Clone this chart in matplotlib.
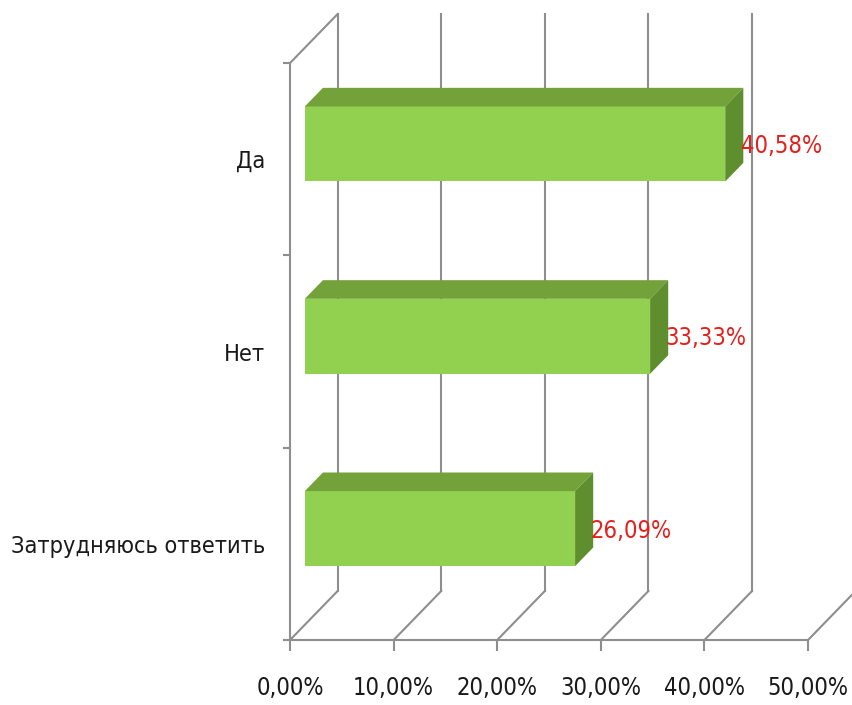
import matplotlib
matplotlib.use("Agg")
import matplotlib.pyplot as plt
from matplotlib.patches import Polygon

# data
categories = ["Затрудняюсь ответить", "Нет", "Да"]
values = [26.09, 33.33, 40.58]
value_labels = ["26,09%", "33,33%", "40,58%"]
x_ticks = [0, 10, 20, 30, 40, 50]
x_tick_labels = ["0,00%", "10,00%", "20,00%", "30,00%", "40,00%", "50,00%"]

plt.rcParams['font.family'] = ['DejaVu Sans']
plt.rcParams['font.stretch'] = 'condensed'

fig = plt.figure(figsize=(8.52, 7.05), dpi=100)
ax = fig.add_axes([0.3404, 0.0922, 0.608, 0.8184])
ax.set_xlim(0, 50)
ax.set_ylim(0, 3)

grid = '#8E8E8E'
front_c, top_c, side_c = '#92D050', '#74A23A', '#5E8E2D'
DX, DY = 4.6, 0.255   # depth of the 3d box, in data units
f1, f2 = 0.31, 0.69   # where the bars sit inside that depth
h = 0.39              # bar height

# back wall gridlines and floor diagonals
for x in x_ticks:
    ax.plot([x + DX, x + DX], [DY, 3 + DY], color=grid, lw=1.5,
            clip_on=False, zorder=1)
    ax.plot([x, x + DX], [0, DY], color=grid, lw=1.5, clip_on=False, zorder=1)
ax.plot([0, DX], [3, 3 + DY], color=grid, lw=1.5, clip_on=False, zorder=1)

# 3d bars
for i, (v, lab) in enumerate(zip(values, value_labels)):
    c = i + 0.5
    lo, hi = c - h / 2, c + h / 2
    x0, y0 = f1 * DX, f1 * DY
    x1, y1 = f2 * DX, f2 * DY
    front = Polygon([(x0, lo + y0), (v + x0, lo + y0), (v + x0, hi + y0),
                     (x0, hi + y0)], closed=True, fc=front_c, ec='none',
                    zorder=3, clip_on=False)
    top = Polygon([(x0, hi + y0), (v + x0, hi + y0), (v + x1, hi + y1),
                   (x1, hi + y1)], closed=True, fc=top_c, ec='none',
                  zorder=3, clip_on=False)
    side = Polygon([(v + x0, lo + y0), (v + x1, lo + y1), (v + x1, hi + y1),
                    (v + x0, hi + y0)], closed=True, fc=side_c, ec='none',
                   zorder=3, clip_on=False)
    for p in (front, top, side):
        ax.add_patch(p)
    ax.text(v + x1 - 0.25, c + y0 - 0.01, lab, color='#E5201C', fontsize=17,
            ha='left', va='center', zorder=4)

for s in ('top', 'right'):
    ax.spines[s].set_visible(False)
for s in ('left', 'bottom'):
    ax.spines[s].set_color(grid)
    ax.spines[s].set_linewidth(1.5)

ax.set_xticks(x_ticks, x_tick_labels)
ax.tick_params(axis='x', length=8, width=1.5, color=grid, pad=18,
               labelsize=17, labelcolor='#1A1A1A')
ax.set_yticks([0, 1, 2, 3], minor=True)
ax.set_yticks([0.5, 1.5, 2.5], categories)
ax.tick_params(axis='y', which='major', length=0, pad=18, labelsize=16.8,
               labelcolor='#1A1A1A')
ax.tick_params(axis='y', which='minor', length=5, width=1.5, color=grid)
ax.set_facecolor('none')

fig.savefig("out.png", dpi=100)
